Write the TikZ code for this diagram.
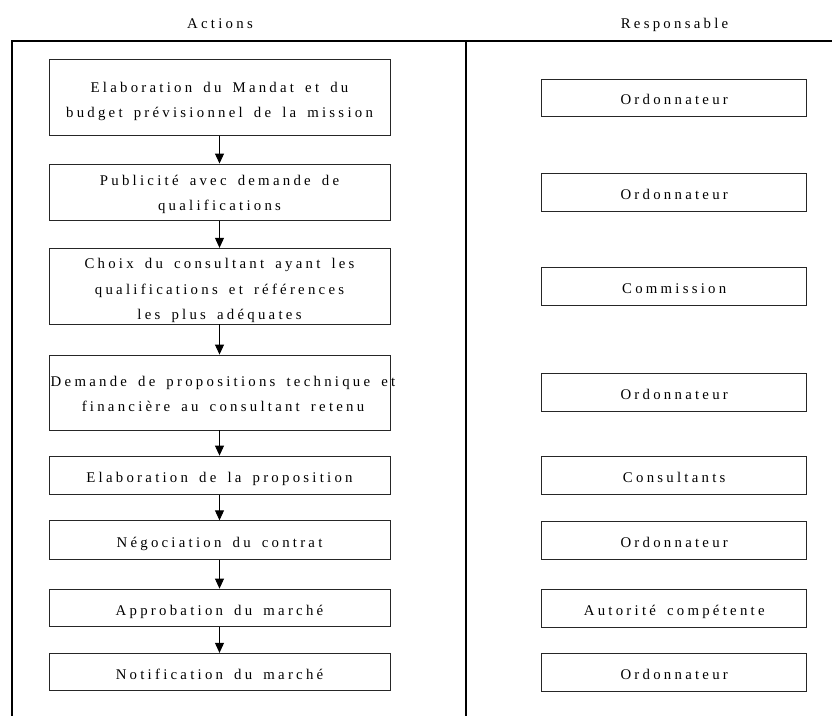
\documentclass[tikz,border=0pt]{standalone}
\usepackage{fontspec}
\setmainfont{Liberation Serif}[LetterSpace=22, WordSpace=1.6]
\usetikzlibrary{arrows.meta}

\tikzset{
  frame/.style={line width=2pt, black},
  actbox/.style={draw=black!85, line width=0.9pt, rectangle, inner sep=0pt,
    minimum width=341pt},
  respbox/.style={draw=black!85, line width=0.9pt, rectangle, inner sep=0pt,
    minimum width=265pt},
  lbl/.style={anchor=north, inner sep=0pt, align=center,
    font=\fontsize{14.8}{25.3}\selectfont},
  head/.style={font=\fontsize{14.8}{17}\selectfont, inner sep=0pt, anchor=base},
  flow/.style={line width=0.9pt, -{Triangle[length=10pt,width=9pt]}},
}

\begin{document}
\begin{tikzpicture}[x=1pt, y=-1pt]
  \useasboundingbox (0,0) rectangle (832,716);

  % column headings
  \node[head] (hact) at (220,28.2) {Actions};
  \node[head] (hresp) at (674.5,28.2) {Responsable};

  % table frame
  \coordinate (tl) at (11,40.5);
  \coordinate (tr) at (832,40.5);
  \coordinate (bl) at (12,716);
  \coordinate (mt) at (465.7,40.5);
  \coordinate (mb) at (465.7,716);
  \draw[frame] (tr) -- (tl) -- (12,40.5) -- (bl);
  \draw[frame] (mt) -- (mb);

  % actions column: boxes
  \node[actbox, minimum height=75.7pt] (a1) at (219.5,97.2) {};
  \node[actbox, minimum height=56.7pt] (a2) at (219.5,192.35) {};
  \node[actbox, minimum height=75.7pt] (a3) at (219.5,286.15) {};
  \node[actbox, minimum height=75pt]   (a4) at (219.5,392.5) {};
  \node[actbox, minimum height=38.3pt] (a5) at (219.5,475.2) {};
  \node[actbox, minimum height=38.3pt] (a6) at (219.5,539.9) {};
  \node[actbox, minimum height=37.7pt] (a7) at (219.5,607.9) {};
  \node[actbox, minimum height=37.4pt] (a8) at (219.5,672) {};

  % actions column: texts
  \node[lbl] (a1t) at ([yshift=15.4pt]a1.center)
    {Elaboration du Mandat et du\\budget prévisionnel de la mission};
  \node[lbl] (a2t) at ([yshift=17.25pt]a2.center)
    {Publicité avec demande de\\qualifications};
  \node[lbl] (a3t) at ([yshift=27.75pt]a3.center)
    {Choix du consultant ayant les\\qualifications et références\\les plus adéquates};
  \node[lbl] (a4t) at ([yshift=16.7pt, xshift=3.5pt]a4.center)
    {Demande de propositions technique et\\financière au consultant retenu};
  \node[lbl] (a5t) at ([yshift=3.2pt]a5.center) {Elaboration de la proposition};
  \node[lbl] (a6t) at ([yshift=3.2pt]a6.center) {Négociation du contrat};
  \node[lbl] (a7t) at ([yshift=3.2pt]a7.center) {Approbation du marché};
  \node[lbl] (a8t) at ([yshift=3.2pt]a8.center) {Notification du marché};

  \foreach \p/\n in {a1/a2,a2/a3,a3/a4,a4/a5,a5/a6,a6/a7,a7/a8}
    \draw[flow] (\p.south) -- (\n.north);

  % responsible column
  \node[respbox, minimum height=37.3pt] (r1) at (674.2,97.7) {};
  \node[respbox, minimum height=37.7pt] (r2) at (674.2,192.2) {};
  \node[respbox, minimum height=37.6pt] (r3) at (674.2,286.5) {};
  \node[respbox, minimum height=37.7pt] (r4) at (674.2,392.2) {};
  \node[respbox, minimum height=38pt]   (r5) at (674.2,475.7) {};
  \node[respbox, minimum height=38pt]   (r6) at (674.2,540) {};
  \node[respbox, minimum height=38pt]   (r7) at (674.2,608) {};
  \node[respbox, minimum height=37.7pt] (r8) at (674.2,672.2) {};

  \node[lbl] (r1t) at ([yshift=3.2pt]r1.center) {Ordonnateur};
  \node[lbl] (r2t) at ([yshift=3.2pt]r2.center) {Ordonnateur};
  \node[lbl] (r3t) at ([yshift=3.2pt]r3.center) {Commission};
  \node[lbl] (r4t) at ([yshift=3.2pt]r4.center) {Ordonnateur};
  \node[lbl] (r5t) at ([yshift=3.2pt]r5.center) {Consultants};
  \node[lbl] (r6t) at ([yshift=3.2pt]r6.center) {Ordonnateur};
  \node[lbl] (r7t) at ([yshift=3.2pt]r7.center) {Autorité compétente};
  \node[lbl] (r8t) at ([yshift=3.2pt]r8.center) {Ordonnateur};
\end{tikzpicture}
\end{document}
